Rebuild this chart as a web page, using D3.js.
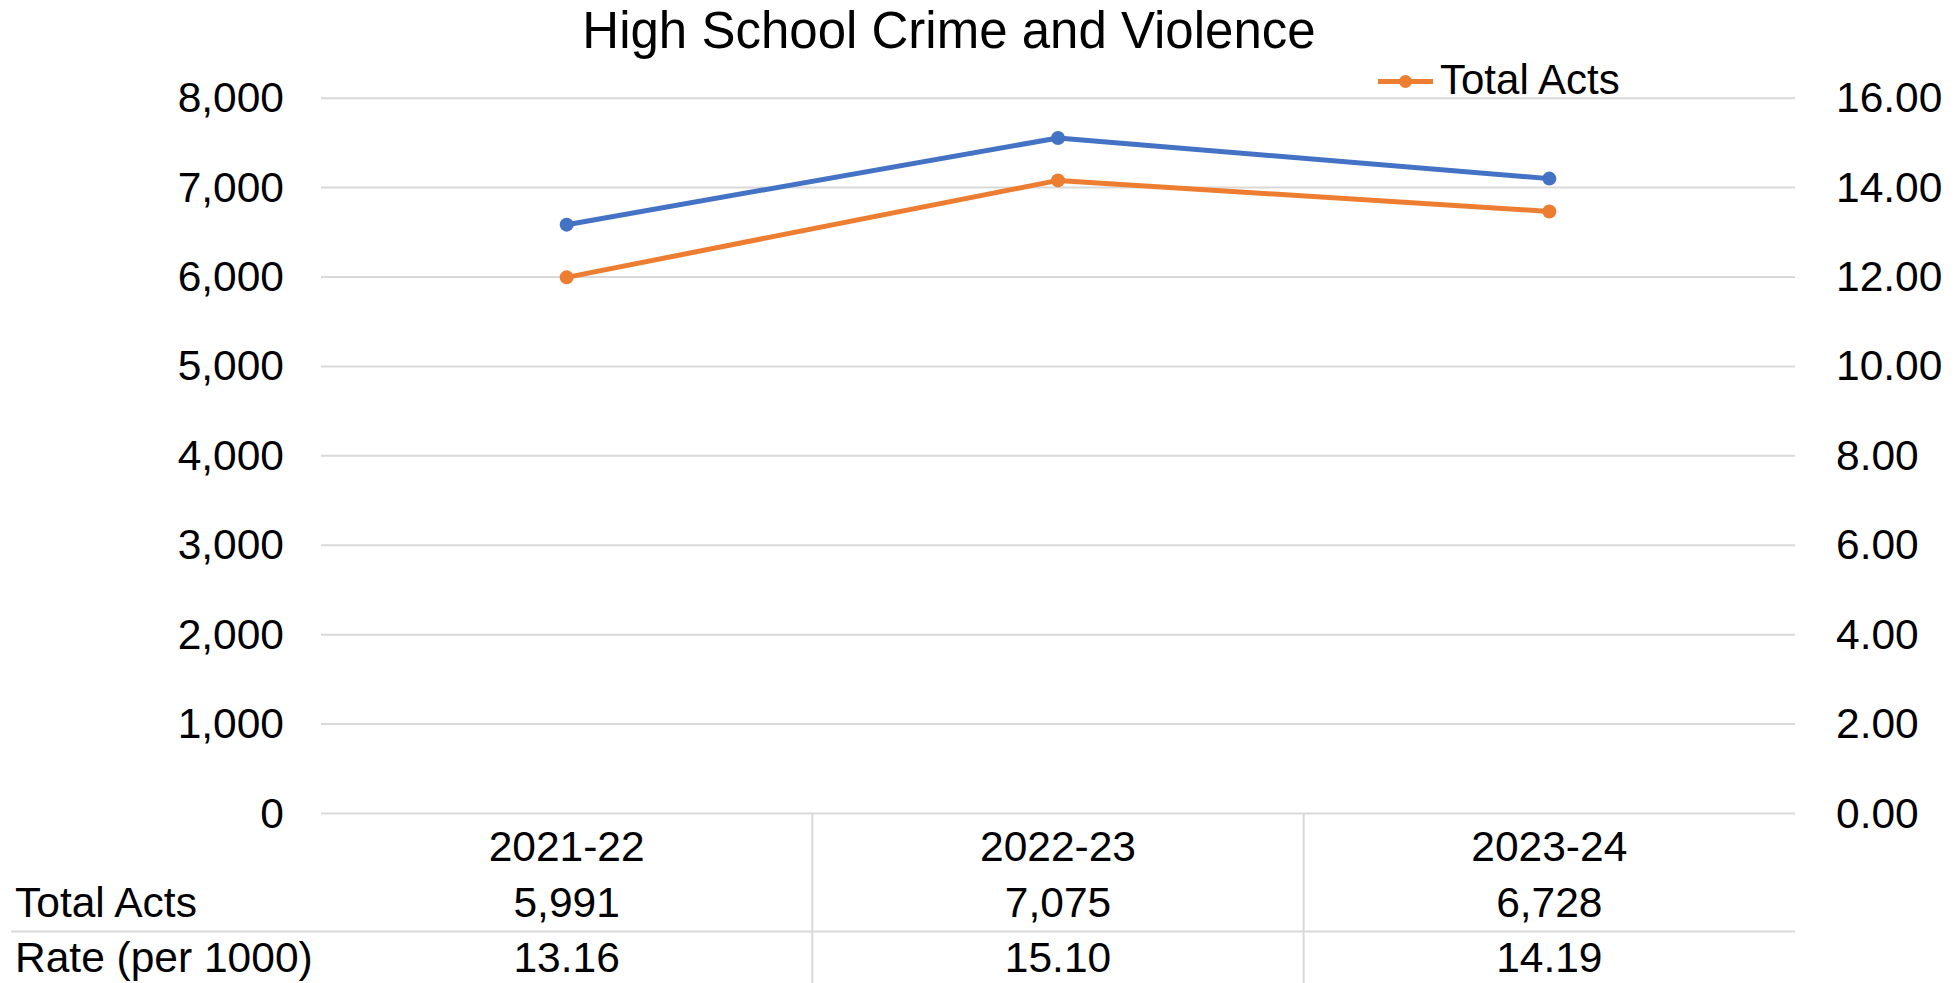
<!DOCTYPE html>
<html>
<head>
<meta charset="utf-8">
<script src="https://cdn.jsdelivr.net/npm/d3@7"></script>
<style>
  body { margin: 0; background: #fff; }
  svg { display: block; font-family: "Liberation Sans", Arial, sans-serif; }
</style>
</head>
<body>
<svg width="1959" height="983"></svg>
<script>
const years = ["2021-22", "2022-23", "2023-24"];
const totalActs = [5991, 7075, 6728];
const rate = [13.16, 15.10, 14.19];
const leftTicks = [0, 1000, 2000, 3000, 4000, 5000, 6000, 7000, 8000];
const rightTicks = [0, 2, 4, 6, 8, 10, 12, 14, 16];

const svg = d3.select("svg");
const blue = "#4472C4", orange = "#ED7D31", gridCol = "#D9D9D9";

const x = d3.scaleBand().domain(years).range([321, 1795]).paddingInner(0).paddingOuter(0);
const yL = d3.scaleLinear().domain([0, 8000]).range([813, 97.7]);
const yR = d3.scaleLinear().domain([0, 16]).range([813, 97.7]);
const cx = d => x(d) + x.bandwidth() / 2;

// title
svg.append("text")
	.attr("x", 949).attr("y", 48)
	.attr("text-anchor", "middle")
	.style("font-size", "51px")
	.text("High School Crime and Violence");

// gridlines
svg.append("g")
	.attr("transform", "translate(321,0)")
	.call(d3.axisLeft(yL).tickValues(leftTicks).tickSize(-1474).tickFormat(""))
	.call(g => g.select(".domain").remove())
	.call(g => g.selectAll("line").attr("stroke", gridCol).attr("stroke-width", 2));

// left axis labels
svg.append("g")
	.attr("transform", "translate(284,0)")
	.call(d3.axisLeft(yL).tickValues(leftTicks).tickSize(0).tickPadding(0).tickFormat(d3.format(",")))
	.call(g => g.select(".domain").remove())
	.call(g => g.selectAll("text").attr("font-size", 42.5).attr("font-family", null).attr("fill", "#000").attr("dy", "0.33em"));

// right axis labels
svg.append("g")
	.attr("transform", "translate(1836,0)")
	.call(d3.axisRight(yR).tickValues(rightTicks).tickSize(0).tickPadding(0).tickFormat(d3.format(".2f")))
	.call(g => g.select(".domain").remove())
	.call(g => g.selectAll("text").attr("font-size", 42.5).attr("font-family", null).attr("fill", "#000").attr("dy", "0.33em"));

// lines
function series(vals, yScale, color) {
	const pts = years.map((d, i) => [cx(d), yScale(vals[i])]);
	svg.append("path")
		.attr("d", d3.line()(pts))
		.attr("fill", "none")
		.attr("stroke", color)
		.attr("stroke-width", 5)
		.attr("stroke-linejoin", "round");
	svg.selectAll(null).data(pts).enter()
		.append("circle")
		.attr("cx", d => d[0]).attr("cy", d => d[1])
		.attr("r", 7)
		.attr("fill", color);
}
series(rate, yR, blue);
series(totalActs, yL, orange);

// legend
const lg = svg.append("g");
lg.append("line").attr("x1", 1378).attr("x2", 1433).attr("y1", 81.5).attr("y2", 81.5)
	.attr("stroke", orange).attr("stroke-width", 5);
lg.append("circle").attr("cx", 1405.5).attr("cy", 81.5).attr("r", 6.5).attr("fill", orange);
lg.append("text").attr("x", 1440).attr("y", 94).style("font-size", "42px").text("Total Acts");

// data table
const tbl = svg.append("g");
tbl.selectAll(".vsep").data(years.slice(1)).enter()
	.append("line")
	.attr("x1", d => x(d)).attr("x2", d => x(d))
	.attr("y1", 813).attr("y2", 983)
	.attr("stroke", gridCol).attr("stroke-width", 2);
tbl.append("line").attr("x1", 11).attr("x2", 1795).attr("y1", 931.5).attr("y2", 931.5)
	.attr("stroke", gridCol).attr("stroke-width", 2);

tbl.selectAll(".cat").data(years).enter()
	.append("text")
	.attr("x", d => cx(d)).attr("y", 861)
	.attr("text-anchor", "middle").style("font-size", "42.5px")
	.text(d => d);

const rows = [
	{label: "Total Acts", vals: totalActs, fmt: d3.format(","), y: 917},
	{label: "Rate (per 1000)", vals: rate, fmt: d3.format(".2f"), y: 972}
];
rows.forEach(r => {
	tbl.append("text").attr("x", 15).attr("y", r.y).style("font-size", "42.5px").text(r.label);
	tbl.selectAll(null).data(years).enter()
		.append("text")
		.attr("x", d => cx(d)).attr("y", r.y)
		.attr("text-anchor", "middle").style("font-size", "42.5px")
		.text((d, i) => r.fmt(r.vals[i]));
});
</script>
</body>
</html>
